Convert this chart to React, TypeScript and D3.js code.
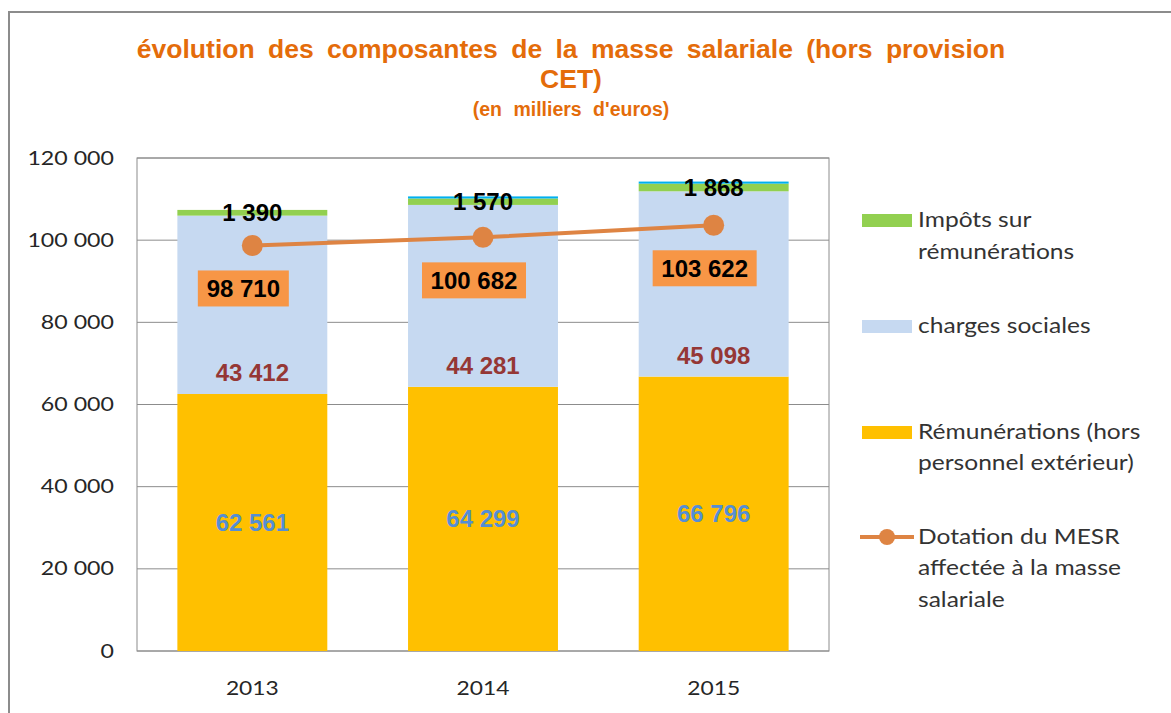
import React from "react";
import * as d3 from "d3";

const years = ["2013", "2014", "2015"];
const remunerations = [62561, 64299, 66796];
const charges = [43412, 44281, 45098];
const impots = [1390, 1570, 1868];
const autres = [0, 500, 500];
const dotation = [98710, 100682, 103622];
const yTicks = [0, 20000, 40000, 60000, 80000, 100000, 120000];

const W = 1171;
const H = 713;
const plot = { left: 137, right: 829, top: 158, bottom: 651 };

const fmt = (v: number) => {
  const s = Math.round(v).toString();
  return s.replace(/\B(?=(\d{3})+(?!\d))/g, " ");
};

const calibri = "Lato, 'Open Sans', sans-serif";
const labelFont = "'Liberation Sans', Arial, sans-serif";

function SText(props: {
  x: number;
  y: number;
  sx?: number;
  anchor?: string;
  size: number;
  fill?: string;
  children: React.ReactNode;
}) {
  const { x, y, sx = 1.2, anchor = "start", size, fill = "#333", children } = props;
  return (
    <text
      transform={`translate(${x},${y}) scale(${sx},1)`}
      dy="0.35em"
      textAnchor={anchor}
      fontFamily={calibri}
      fontSize={size}
      fill={fill}
    >
      {children}
    </text>
  );
}

export default function App() {
  const x = d3
    .scaleBand<string>()
    .domain(years)
    .range([plot.left, plot.right])
    .paddingInner(0.35)
    .paddingOuter(0.175);
  const y = d3.scaleLinear().domain([0, 120000]).range([plot.bottom, plot.top]);

  const series = [
    { key: "rem", values: remunerations, color: "#FFC000" },
    { key: "cha", values: charges, color: "#C6D9F1" },
    { key: "imp", values: impots, color: "#92D050" },
    { key: "aut", values: autres, color: "#00B0F0" },
  ];
  const table = years.map((yr, i) => ({
    year: yr,
    rem: remunerations[i],
    cha: charges[i],
    imp: impots[i],
    aut: autres[i],
  }));
  const stacked = d3.stack<any>().keys(series.map((s) => s.key))(table);

  const line = d3
    .line<number>()
    .x((_, i) => (x(years[i]) as number) + x.bandwidth() / 2)
    .y((d) => y(d));

  const lineColor = "#DE8443";

  return (
    <svg
      width={W}
      height={H}
      style={{ position: "fixed", left: 0, top: 0, background: "#fff" }}
    >
      <rect x={0} y={0} width={W} height={H} fill="#fff" />
      <rect x={9} y={12} width={W + 20} height={H + 20} fill="#fff" stroke="#8c8c8c" strokeWidth={2} />

      {/* title */}
      <g fontFamily={labelFont} fontWeight="bold" fill="#E46C0A" textAnchor="middle">
        <text x={571} y={58} fontSize={26.5} wordSpacing={6}>
          évolution des composantes de la masse salariale (hors provision
        </text>
        <text x={571} y={88} fontSize={26.5}>
          CET)
        </text>
        <text x={571} y={116} fontSize={19.5} wordSpacing={6}>
          (en milliers d'euros)
        </text>
      </g>

      {/* grid */}
      {yTicks.map((t) => (
        <line key={t} x1={plot.left} x2={plot.right} y1={y(t)} y2={y(t)} stroke="#8c8c8c" strokeWidth={1} />
      ))}
      <rect
        x={plot.left}
        y={plot.top}
        width={plot.right - plot.left}
        height={plot.bottom - plot.top}
        fill="none"
        stroke="#8c8c8c"
        strokeWidth={1}
      />
      {yTicks.map((t) => (
        <SText key={"l" + t} x={114} y={y(t)} anchor="end" size={19} sx={1.22} fill="#262626">
          {fmt(t)}
        </SText>
      ))}
      {years.map((yr) => (
        <SText
          key={"x" + yr}
          x={(x(yr) as number) + x.bandwidth() / 2}
          y={688}
          anchor="middle"
          size={19}
          sx={1.2}
          fill="#262626"
        >
          {yr}
        </SText>
      ))}

      {/* bars */}
      {stacked.map((layer, si) => (
        <g key={layer.key} fill={series[si].color}>
          {layer.map((d, i) =>
            d[1] - d[0] > 0 ? (
              <rect
                key={i}
                x={x(years[i])}
                width={x.bandwidth()}
                y={y(d[1])}
                height={y(d[0]) - y(d[1])}
              />
            ) : null
          )}
        </g>
      ))}

      {/* bar labels */}
      {years.map((yr, i) => {
        const cx = (x(yr) as number) + x.bandwidth() / 2;
        const r = stacked[0][i];
        const c = stacked[1][i];
        const g = stacked[2][i];
        return (
          <g key={"bl" + yr} fontFamily={labelFont} fontWeight="bold" fontSize={24} textAnchor="middle">
            <text x={cx} y={(y(r[0]) + y(r[1])) / 2} dy="0.35em" fill="#558ED5">
              {fmt(remunerations[i])}
            </text>
            <text x={cx} y={y(c[0]) - 21} dy="0.35em" fill="#953735">
              {fmt(charges[i])}
            </text>
            <text x={cx} y={(y(g[0]) + y(g[1])) / 2} dy="0.35em" fill="#000">
              {fmt(impots[i])}
            </text>
          </g>
        );
      })}

      {/* line */}
      <path d={line(dotation) || ""} fill="none" stroke={lineColor} strokeWidth={4} />
      {dotation.map((v, i) => (
        <circle
          key={"c" + i}
          cx={(x(years[i]) as number) + x.bandwidth() / 2}
          cy={y(v)}
          r={10.5}
          fill={lineColor}
        />
      ))}
      {dotation.map((v, i) => {
        const cx = (x(years[i]) as number) + x.bandwidth() / 2 - 9;
        const cy = y(v) + 43;
        const label = fmt(v);
        const w = label.length > 6 ? 104 : 91;
        return (
          <g key={"dl" + i}>
            <rect x={cx - w / 2} y={cy - 18} width={w} height={36} fill="#F79646" />
            <text
              x={cx}
              y={cy}
              dy="0.35em"
              textAnchor="middle"
              fontFamily={labelFont}
              fontWeight="bold"
              fontSize={24}
              fill="#000"
            >
              {label}
            </text>
          </g>
        );
      })}

      {/* legend */}
      <g>
        <rect x={862} y={214} width={50} height={13} fill="#92D050" />
        <SText x={918} y={220} size={21} sx={1.17}>Impôts sur</SText>
        <SText x={918} y={252} size={21} sx={1.17}>rémunérations</SText>

        <rect x={862} y={320} width={50} height={13} fill="#C6D9F1" />
        <SText x={918} y={326} size={21} sx={1.17}>charges sociales</SText>

        <rect x={862} y={426} width={50} height={13} fill="#FFC000" />
        <SText x={918} y={432} size={21} sx={1.17}>Rémunérations (hors</SText>
        <SText x={918} y={463} size={21} sx={1.17}>personnel extérieur)</SText>

        <line x1={860} x2={914} y1={537} y2={537} stroke={lineColor} strokeWidth={4} />
        <circle cx={887} cy={537} r={8} fill={lineColor} />
        <SText x={918} y={537} size={21} sx={1.17}>Dotation du MESR</SText>
        <SText x={918} y={568} size={21} sx={1.17}>affectée à la masse</SText>
        <SText x={918} y={600} size={21} sx={1.17}>salariale</SText>
      </g>
    </svg>
  );
}
